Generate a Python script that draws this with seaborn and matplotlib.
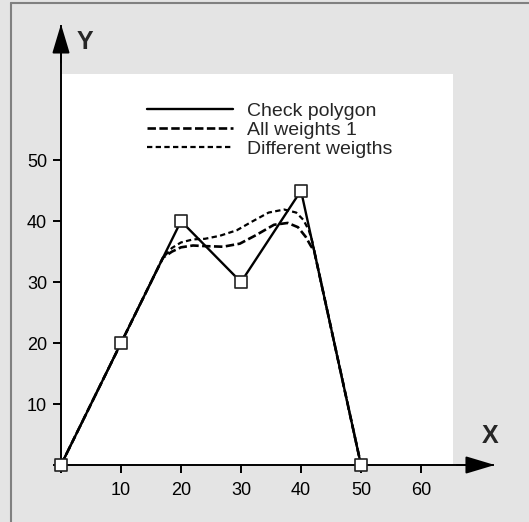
"""
Check polygon and two rational curves (all weights 1 / different weights)
output: out.png
"""

import matplotlib
matplotlib.use('Agg')
from matplotlib import pyplot as plt
from matplotlib.lines import Line2D
import seaborn as sns

# control points of the check polygon
poly_x = [0, 10, 20, 30, 40, 50]
poly_y = [0, 20, 40, 30, 45, 0]

# curve, all weights 1
w1_x = [0, 10, 17.0, 18.5, 20.0, 22.0, 24.0, 27.0, 29.8, 32.5, 35.5, 37.8, 39.5, 40.8, 41.6, 42.2, 50]
w1_y = [0, 20, 34.0, 35.0, 35.7, 36.0, 35.9, 35.8, 36.3, 37.7, 39.4, 39.7, 39.0, 37.4, 36.0, 35.1, 0]

# curve, different weights
dw_x = [0, 10, 17.0, 18.5, 20.0, 22.0, 24.0, 26.5, 29.3, 31.8, 34.6, 37.2, 39.2, 40.4, 41.3, 41.9, 42.2, 50]
dw_y = [0, 20, 34.0, 35.6, 36.5, 37.0, 37.1, 37.6, 38.5, 39.9, 41.4, 41.9, 41.4, 40.2, 38.5, 36.6, 35.1, 0]

x_ticks = [0, 10, 20, 30, 40, 50, 60]
y_ticks = [0, 10, 20, 30, 40, 50]

BG = '#e4e4e4'

sns.set_theme(style='white')
plt.rcParams['font.family'] = ['Liberation Sans', 'DejaVu Sans']

fig = plt.figure(figsize=(5.29, 5.22), dpi=100, facecolor=BG)
ax = fig.add_axes([61/529, 57/522, 432/529, 439/522])
ax.set_facecolor('none')
ax.set_xlim(0, 72)
ax.set_ylim(0, 72)

# white drawing area
ax.add_patch(plt.Rectangle((0, 0), 65.4, 64.2, facecolor='white', edgecolor='none', zorder=0))

sns.lineplot(x=poly_x, y=poly_y, color='black', lw=1.7, sort=False, estimator=None,
             label='Check polygon', ax=ax)
sns.lineplot(x=w1_x, y=w1_y, color='black', lw=1.9, sort=False, estimator=None,
             linestyle=(0, (3.2, 1.3)), label='All weights 1', ax=ax)
sns.lineplot(x=dw_x, y=dw_y, color='black', lw=1.6, sort=False, estimator=None,
             linestyle=(0, (2.4, 1.5)), label='Different weigths', ax=ax)
sns.scatterplot(x=poly_x, y=poly_y, marker='s', s=70, color='white', edgecolor='#222222',
                linewidth=1.2, zorder=5, clip_on=False, legend=False, ax=ax)

# axes with arrows
for side in ['top', 'right']:
    ax.spines[side].set_visible(False)
for side in ['left', 'bottom']:
    ax.spines[side].set_color('black')
    ax.spines[side].set_linewidth(1.4)
arrow = dict(arrowstyle='-|>,head_length=1.0,head_width=0.3', color='black', lw=1.4,
             mutation_scale=18, shrinkA=0, shrinkB=0)
ax.annotate('', xy=(72.3, 0), xytext=(66, 0), arrowprops=arrow, annotation_clip=False)
ax.annotate('', xy=(0, 72.3), xytext=(0, 66), arrowprops=arrow, annotation_clip=False)

ax.set_xticks(x_ticks)
ax.set_xticklabels(['' if t == 0 else str(t) for t in x_ticks])
ax.set_yticks(y_ticks)
ax.set_yticklabels(['' if t == 0 else str(t) for t in y_ticks])
ax.tick_params(bottom=True, left=True, direction='out', length=6, width=1.4,
               color='black', labelsize=13, labelcolor='black')
ax.tick_params(axis='x', pad=6)
ax.tick_params(axis='y', pad=4)
ax.grid(False)

ax.text(4.0, 69.4, 'Y', fontsize=18, fontweight='bold', ha='center', va='center')
ax.text(71.5, 4.7, 'X', fontsize=18, fontweight='bold', ha='center', va='center')

ax.legend(loc='upper left', bbox_to_anchor=(0.199, 0.826), frameon=False, fontsize=14,
          handlelength=4.4, handletextpad=0.75, labelspacing=0.06, borderpad=0,
          borderaxespad=0)

# frame (top and left edge)
fig.add_artist(Line2D([11/529, 1], [1 - 3/522, 1 - 3/522], color='#808080', lw=1.5,
                      transform=fig.transFigure))
fig.add_artist(Line2D([11/529, 11/529], [0, 1 - 3/522], color='#808080', lw=1.5,
                      transform=fig.transFigure))

fig.savefig('out.png', dpi=100, facecolor=fig.get_facecolor())
